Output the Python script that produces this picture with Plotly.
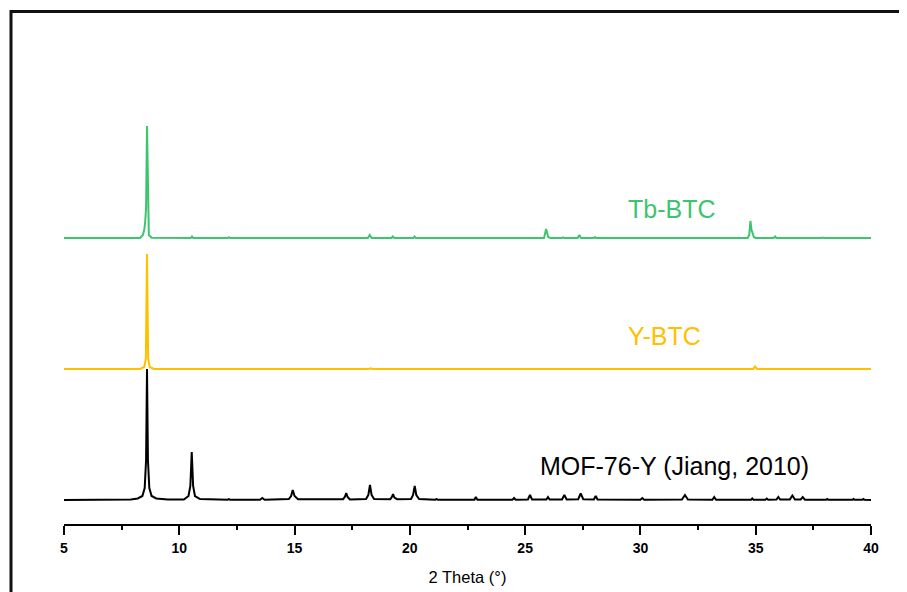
import plotly.graph_objects as go

# ---------------- data (2 Theta in degrees, intensity in arbitrary units) -------------
mof_x = [5.0, 7.9, 8.2, 8.4, 8.5, 8.56, 8.6, 8.64, 8.7, 8.8, 9.0, 9.5,
         10.2, 10.4, 10.48, 10.54, 10.6, 10.68, 10.9, 11.5,
         12.1, 12.15, 12.2, 13.5, 13.6, 13.7,
         14.75, 14.85, 14.92, 15.0, 15.15,
         17.1, 17.18, 17.24, 17.3, 17.4,
         18.1, 18.2, 18.27, 18.34, 18.45,
         19.15, 19.22, 19.27, 19.33, 19.45,
         20.05, 20.14, 20.21, 20.28, 20.4,
         21.1, 21.16, 21.22, 22.8, 22.86, 22.93,
         24.45, 24.52, 24.59, 25.12, 25.21, 25.3,
         25.92, 25.99, 26.06, 26.6, 26.7, 26.8,
         27.3, 27.41, 27.52, 27.98, 28.06, 28.14,
         30.0, 30.08, 30.16, 31.8, 31.93, 32.06,
         33.12, 33.2, 33.28, 34.8, 34.85, 34.9,
         35.42, 35.48, 35.54, 35.9, 35.98, 36.06,
         36.48, 36.59, 36.7, 36.95, 37.04, 37.13,
         38.05, 38.1, 38.15, 39.2, 39.24, 39.3,
         39.62, 39.67, 39.72, 40.0]
mof_y = [0, 0.5, 1.5, 4, 12, 40, 131, 40, 12, 4, 1.5, 0.5,
         0.5, 4, 14, 48, 14, 4, 1, 0.5,
         0.3, 0.8, 0.3, 0.2, 2, 0.2,
         1, 4, 10, 4, 0.8,
         0.8, 3, 7, 3, 0.5,
         1, 5, 15, 5, 1,
         0.8, 3, 6, 2.5, 0.8,
         1, 5, 14, 5, 1,
         0.3, 1, 0.3, 0.3, 3, 0.3,
         0.3, 2, 0.3, 0.5, 5, 0.5,
         0.5, 3, 0.5, 0.5, 5, 0.5,
         0.8, 6.5, 0.8, 0.5, 4, 0.5,
         0.3, 2, 0.3, 0.5, 5, 0.5,
         0.3, 3, 0.3, 0.3, 1.5, 0.3,
         0.3, 1.5, 0.3, 0.5, 3, 0.5,
         0.5, 4.5, 0.5, 0.5, 3, 0.3,
         0.2, 1, 0.2, 0.2, 1, 0.2,
         0.2, 1, 0.2, 0]

ybtc_x = [5.0, 8.3, 8.48, 8.55, 8.6, 8.65, 8.72, 8.9,
          18.22, 18.3, 18.38, 20.15, 20.2, 20.25,
          34.9, 34.97, 35.05, 40.0]
ybtc_y = [0, 0, 2, 10, 115, 10, 2, 0,
          0, 0.6, 0, 0, 0.5, 0,
          0, 3, 0, 0]

tbbtc_x = [5.0, 8.3, 8.42, 8.48, 8.52, 8.56, 8.6, 8.64, 8.68, 8.8,
           10.5, 10.55, 10.6, 12.1, 12.15, 12.2,
           15.88, 15.93, 15.98, 16.43, 16.48, 16.53,
           18.18, 18.26, 18.34, 19.2, 19.26, 19.32, 20.15, 20.2, 20.26,
           25.82, 25.91, 26.0, 26.1, 26.59, 26.64, 26.69,
           27.28, 27.35, 27.42, 27.98, 28.03, 28.08, 33.31, 33.36, 33.41,
           34.65, 34.72, 34.77, 34.82, 34.86, 34.92, 35.0,
           35.78, 35.84, 35.9, 37.85, 37.9, 37.95, 40.0]
tbbtc_y = [0, 0, 3, 8, 16, 30, 112, 30, 3, 0.3,
           0, 1.5, 0, 0, 0.8, 0,
           0, 0.7, 0, 0, 0.7, 0,
           0, 3, 0, 0, 1.5, 0, 0, 1.5, 0,
           0, 9, 1, 0, 0, 0.7, 0,
           0, 3, 0, 0, 1, 0, 0, 0.5, 0,
           0, 3, 17, 8, 5, 1, 0,
           0, 1.5, 0, 0, 0.5, 0, 0]

names = ["MOF-76-Y (Jiang, 2010)", "Y-BTC", "Tb-BTC"]
offsets = [24, 155, 286]
colors = ["#000000", "#FFC000", "#3DC46E"]

# ---------------- figure -------------------------------------------------------------
fig = go.Figure()
series = [(mof_x, mof_y), (ybtc_x, ybtc_y), (tbbtc_x, tbbtc_y)]
for (xs, ys), name, off, col in zip(series, names, offsets, colors):
    fig.add_trace(go.Scatter(x=xs, y=[v + off for v in ys], mode="lines",
                             name=name, line=dict(color=col, width=2),
                             showlegend=False))

label_pos = [(31.49, 58), (31.04, 188), (31.36, 315)]
for name, col, (lx, ly) in zip(names, colors, label_pos):
    fig.add_annotation(x=lx, y=ly, text=name, showarrow=False,
                       xanchor="center", yanchor="middle",
                       font=dict(family="Arial, Liberation Sans", size=25, color=col))

# frame (partly cropped border of the original figure)
PW, PH = 807, 512
fx = (3 - 56) / PW
fig.add_shape(type="line", xref="paper", yref="paper",
              x0=fx, x1=1.1, y0=1 + 0.5 / PH, y1=1 + 0.5 / PH,
              line=dict(color="#111111", width=3))
fig.add_shape(type="line", xref="paper", yref="paper",
              x0=fx, x1=fx, y0=1 + 2 / PH, y1=-0.2,
              line=dict(color="#111111", width=3))

fig.update_layout(
    width=907, height=592,
    margin=dict(l=56, r=44, t=4, b=76),
    paper_bgcolor="white", plot_bgcolor="white",
    font=dict(family="Arial, Liberation Sans", color="black"),
)
fig.update_xaxes(range=[5, 40], showgrid=False, zeroline=False,
                 showline=True, linecolor="black", linewidth=2,
                 ticks="outside", ticklen=9, tickwidth=2, tickcolor="black",
                 tick0=5, dtick=5,
                 minor=dict(ticks="outside", ticklen=4, tickwidth=2,
                            tickcolor="black", dtick=2.5, tick0=5),
                 tickfont=dict(family="Arial, Liberation Sans", size=14,
                               weight="bold", color="black"),
                 ticklabelstandoff=1,
                 title=dict(text="2 Theta (°)", standoff=17,
                            font=dict(family="Arial, Liberation Sans", size=16.5,
                                      color="black")))
fig.update_yaxes(range=[0, 512], visible=False, showgrid=False, zeroline=False)

fig.write_html("out.html")
